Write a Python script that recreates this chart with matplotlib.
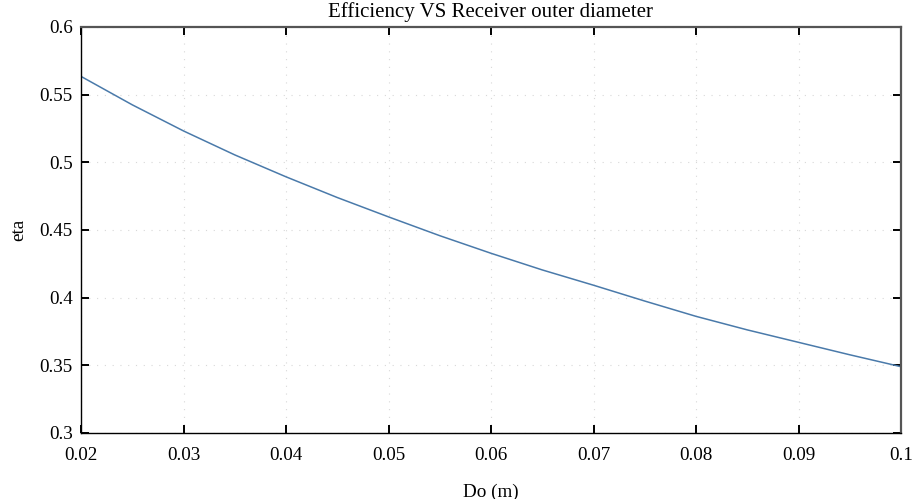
import matplotlib
matplotlib.use("Agg")
import matplotlib.pyplot as plt

# Receiver outer diameter (m) and efficiency
do_values = [0.020, 0.025, 0.030, 0.035, 0.040, 0.045, 0.050, 0.055, 0.060,
             0.065, 0.070, 0.075, 0.080, 0.085, 0.090, 0.095, 0.100]
eta_values = [0.5635, 0.5425, 0.5232, 0.5055, 0.4893, 0.4740, 0.4597, 0.4458, 0.4328,
              0.4205, 0.4092, 0.3975, 0.3862, 0.3762, 0.3670, 0.3578, 0.3490]

x_ticks = [0.02, 0.03, 0.04, 0.05, 0.06, 0.07, 0.08, 0.09, 0.1]
x_tick_labels = ["0.02", "0.03", "0.04", "0.05", "0.06", "0.07", "0.08", "0.09", "0.1"]
y_ticks = [0.3, 0.35, 0.4, 0.45, 0.5, 0.55, 0.6]
y_tick_labels = ["0.3", "0.35", "0.4", "0.45", "0.5", "0.55", "0.6"]

plt.rcParams['font.family'] = ['Liberation Serif', 'DejaVu Serif']
plt.rcParams['font.size'] = 12.5

fig = plt.figure(figsize=(9.19, 4.99), dpi=100)
ax = fig.add_axes([81 / 919, 66 / 499, 820 / 919, 406 / 499])

# Plot the efficiency curve
ax.plot(do_values, eta_values, color='#4a7aaa', linewidth=1.1)

ax.set_xlim(0.02, 0.1)
ax.set_ylim(0.3, 0.6)
ax.set_xticks(x_ticks)
ax.set_xticklabels(x_tick_labels)
ax.set_yticks(y_ticks)
ax.set_yticklabels(y_tick_labels)

# MATLAB style box with inward ticks on all sides
ax.tick_params(direction='in', length=6, width=1.4, top=True, right=True,
               colors='black', labelsize=13.8)
ax.tick_params(axis='x', pad=10)
ax.tick_params(axis='y', pad=6)
for side in ['left', 'bottom']:
    ax.spines[side].set_color('black')
    ax.spines[side].set_linewidth(1.0)
for side in ['top', 'right']:
    ax.spines[side].set_color('#555555')
    ax.spines[side].set_linewidth(1.6)

ax.grid(True, linestyle=(0, (1, 6)), color='#d8d8d8', linewidth=0.8)

ax.set_title("Efficiency VS Receiver outer diameter", pad=7)
ax.set_xlabel("Do (m)", fontsize=13.8, labelpad=14)
ax.set_ylabel("eta", fontsize=13.8, labelpad=9)

fig.savefig("out.png", dpi=100)
